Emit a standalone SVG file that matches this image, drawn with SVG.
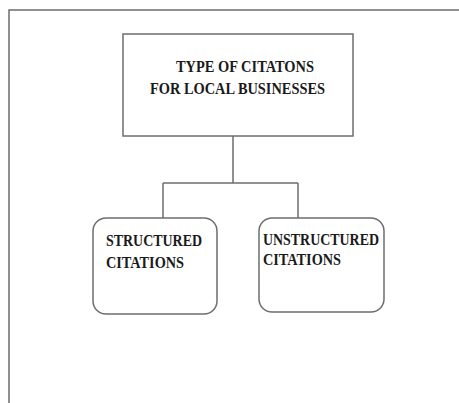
<svg xmlns="http://www.w3.org/2000/svg" width="459" height="403" viewBox="0 0 459 403">
<style>
.ln{fill:none;stroke:#6e6e6e;stroke-width:1.5}
.bx{fill:#fff;stroke:#6e6e6e;stroke-width:1.5}
.t{font-family:'Liberation Serif','Times New Roman',Times,serif;font-weight:700;font-size:16px;fill:#1a1a1a}
</style>
<rect width="459" height="403" fill="#fff"/>
<path class="ln" d="M9,403 V10 H459"/>
<g id="connectors">
<path class="ln" d="M233,136 V183 M163,183 H298 M163,183 V218 M298,183 V218"/>
</g>
<g id="root">
<rect class="bx" x="123" y="34" width="230" height="102"/>
<text class="t" x="176" y="72" textLength="138" lengthAdjust="spacingAndGlyphs">TYPE OF CITATONS</text>
<text class="t" x="150" y="94" textLength="175" lengthAdjust="spacingAndGlyphs">FOR LOCAL BUSINESSES</text>
</g>
<g id="structured">
<rect class="bx" x="93" y="218" width="124" height="96" rx="13"/>
<text class="t" x="106" y="246" textLength="96" lengthAdjust="spacingAndGlyphs">STRUCTURED</text>
<text class="t" x="106" y="268" textLength="78" lengthAdjust="spacingAndGlyphs">CITATIONS</text>
</g>
<g id="unstructured">
<rect class="bx" x="259" y="218" width="125" height="94" rx="13"/>
<text class="t" x="263" y="245" textLength="116" lengthAdjust="spacingAndGlyphs">UNSTRUCTURED</text>
<text class="t" x="263" y="265" textLength="78" lengthAdjust="spacingAndGlyphs">CITATIONS</text>
</g>
</svg>
